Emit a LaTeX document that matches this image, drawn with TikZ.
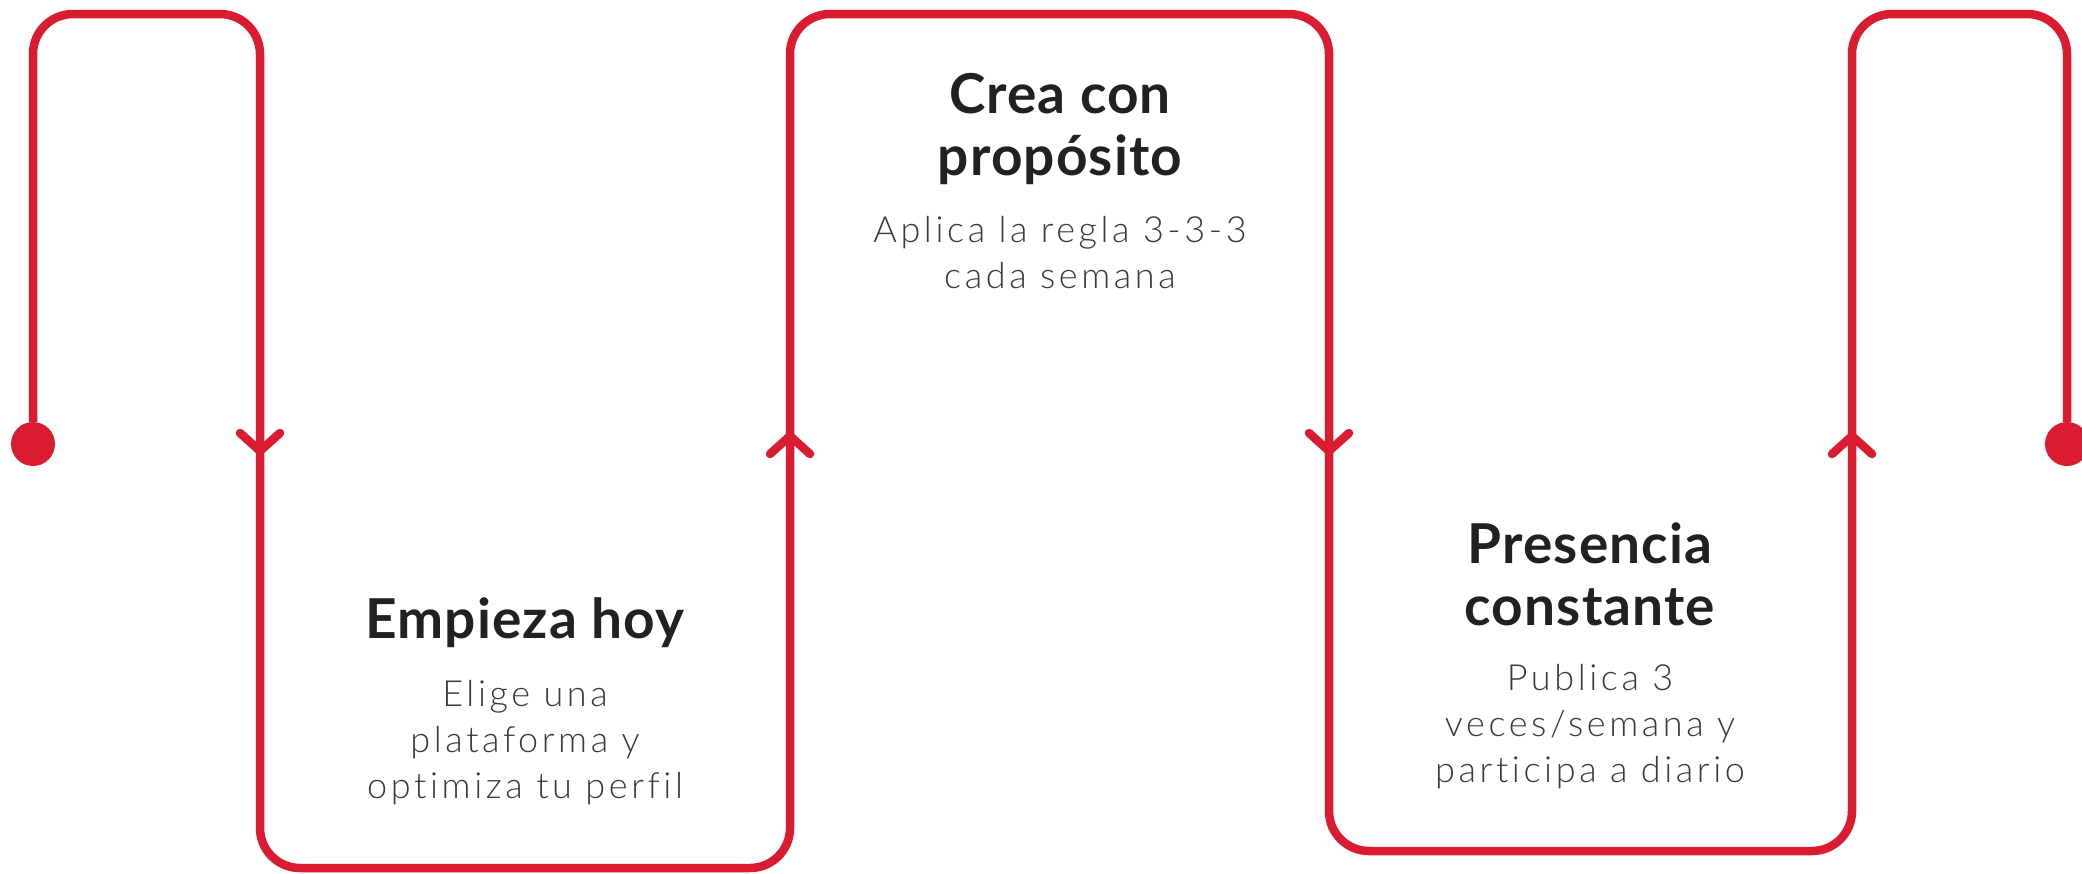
\documentclass[tikz,border=0pt]{standalone}
\usepackage{fontspec}
\setmainfont{Lato}[LetterSpace=2]
\IfFontExistsTF{Lato Light}{\newfontfamily\lightfont{Lato Light}[LetterSpace=10,Ligatures=NoCommon]}{\newfontfamily\lightfont{Lato}[LetterSpace=10,Ligatures=NoCommon]}
\usepackage{xcolor}
\definecolor{trailred}{HTML}{DB1B30}
\definecolor{headgray}{HTML}{212121}
\definecolor{bodygray}{HTML}{3A3A3A}

\begin{document}
\begin{tikzpicture}[x=1pt, y=-1pt,
    trail/.style={draw=trailred, line width=8.5pt, rounded corners=40pt},
    chev/.style={draw=trailred, line width=8.5pt, line cap=round, line join=round},
    dot/.style={circle, fill=trailred, minimum size=44pt, inner sep=0pt},
    heading/.style={anchor=north, align=center, inner sep=0pt, text=headgray,
        font=\fontsize{55}{62}\selectfont\bfseries},
    detail/.style={anchor=north, align=center, inner sep=0pt, text=bodygray,
        font=\lightfont\fontsize{36}{46}\selectfont}]
    \useasboundingbox (0,0) rectangle (2082,873);

    % Turning points
    \coordinate (top) at (0,14);
    \coordinate (low1) at (0,868);
    \coordinate (low2) at (0,851);
    \coordinate (a1) at (260,451);
    \coordinate (a2) at (790,436);
    \coordinate (a3) at (1329,451);
    \coordinate (a4) at (1852,436);

    % End dots
    \node[dot] (start) at (33,444) {};
    \node[dot] (finish) at (2067,444) {};

    % Trail
    \draw[trail] (start) |- (a1 |- top) -- (a1) |- (a2 |- low1) -- (a2)
        |- (a3 |- top) -- (a3) |- (a4 |- low2) -- (a4) |- (finish |- top) -- (finish);

    % Arrows
    \foreach \p/\s in {a1/1, a3/1, a2/-1, a4/-1}
        \draw[chev] ([shift={(-20pt,\s*18pt)}]\p) -- (\p) -- ([shift={(20pt,\s*18pt)}]\p);

    % Labels
    \node[heading] (t1) at (525,597) {Empieza hoy};
    \node[detail] (d1) at (525,680) {Elige una\\plataforma y\\optimiza tu perfil};
    \node[heading] (t2) at (1060,73) {Crea con\\propósito};
    \node[detail] (d2) at (1060,216) {Aplica la regla 3-3-3\\cada semana};
    \node[heading] (t3) at (1590,523) {Presencia\\constante};
    \node[detail] (d3) at (1590,664) {Publica 3\\veces/semana y\\participa a diario};
\end{tikzpicture}
\end{document}
